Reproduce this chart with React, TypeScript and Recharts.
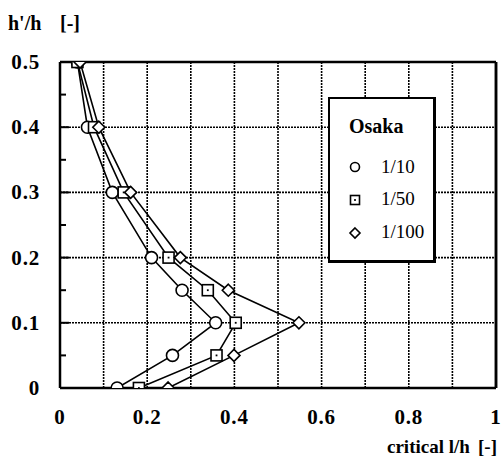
import React from 'react';
import { ScatterChart, Scatter, XAxis, YAxis, CartesianGrid, Legend, ReferenceLine } from 'recharts';

const heights = [0.5, 0.4, 0.3, 0.2, 0.15, 0.1, 0.05, 0];
const osaka10 = [0.04, 0.063, 0.12, 0.21, 0.28, 0.357, 0.258, 0.131];
const osaka50 = [0.04, 0.078, 0.146, 0.249, 0.339, 0.403, 0.359, 0.181];
const osaka100 = [0.046, 0.089, 0.162, 0.276, 0.386, 0.548, 0.399, 0.248];

const xTicks = [0, 0.1, 0.2, 0.3, 0.4, 0.5, 0.6, 0.7, 0.8, 0.9, 1];
const xLabels = ['0', '', '0.2', '', '0.4', '', '0.6', '', '0.8', '', '1'];
const yTicks = [0, 0.05, 0.1, 0.15, 0.2, 0.25, 0.3, 0.35, 0.4, 0.45, 0.5];
const yLabels = ['0', '', '0.1', '', '0.2', '', '0.3', '', '0.4', '', '0.5'];
const gridX = [0.1, 0.2, 0.3, 0.4, 0.5, 0.6, 0.7, 0.8, 0.9];
const gridY = [0.1, 0.2, 0.3, 0.4];
const frameTop = 0.5;
const frameRight = 1;

const legendTitle = 'Osaka';
const seriesNames = ['1/10', '1/50', '1/100'];

const toPoints = (xs: number[]) => heights.map((h, i) => ({ x: xs[i], y: h }));
const d10 = toPoints(osaka10);
const d50 = toPoints(osaka50);
const d100 = toPoints(osaka100);

const FONT = '"Liberation Serif", "DejaVu Serif", serif';
const TICK_STYLE = { fontFamily: FONT, fontWeight: 'bold' as const, fontSize: 21, letterSpacing: 0.8 };

const CircleShape = (p: any) => (
  <circle cx={p.cx} cy={p.cy} r={6} fill="#fff" stroke="#000" strokeWidth={1.6} />
);
const SquareShape = (p: any) => (
  <g>
    <rect x={p.cx - 5.5} y={p.cy - 5.5} width={11} height={11} fill="#fff" stroke="#000" strokeWidth={1.6} />
    <rect x={p.cx - 0.9} y={p.cy - 0.9} width={1.8} height={1.8} fill="#000" />
  </g>
);
const DiamondShape = (p: any) => (
  <path
    d={`M${p.cx},${p.cy - 6} L${p.cx + 6},${p.cy} L${p.cx},${p.cy + 6} L${p.cx - 6},${p.cy} Z`}
    fill="#fff"
    stroke="#000"
    strokeWidth={1.6}
  />
);

const XTick = (props: any) => {
  const { x, y, index } = props;
  const label = xLabels[index] ?? '';
  if (!label) return <g />;
  return (
    <text x={x} y={y + 36} textAnchor="middle" style={TICK_STYLE} fill="#000">
      {label}
    </text>
  );
};

const YTickLeft = (props: any) => {
  const { x, y, index } = props;
  const label = yLabels[index] ?? '';
  if (!label) return <line x1={x} x2={x + 6} y1={y} y2={y} stroke="#000" strokeWidth={2} />;
  const major = index > 0 && index < yTicks.length - 1;
  return (
    <g>
      {major && <line x1={x} x2={x + 9} y1={y} y2={y} stroke="#000" strokeWidth={2} />}
      <text x={x - 20} y={y + 7} textAnchor="end" style={TICK_STYLE} fill="#000">
        {label}
      </text>
    </g>
  );
};

const YTickRight = (props: any) => {
  const { x, y, index } = props;
  const label = yLabels[index] ?? '';
  if (!label) return <line x1={x - 6} x2={x} y1={y} y2={y} stroke="#000" strokeWidth={2} />;
  const major = index > 0 && index < yTicks.length - 1;
  if (!major) return <g />;
  return <line x1={x - 9} x2={x} y1={y} y2={y} stroke="#000" strokeWidth={2} />;
};

const LegendBox = () => (
  <div
    style={{
      width: 108,
      height: 166,
      boxSizing: 'border-box',
      border: '2px solid #000',
      borderRightWidth: 3,
      borderBottomWidth: 3,
      background: '#fff',
    }}
  >
    <svg width={104} height={162} style={{ display: 'block' }}>
      <text x={19} y={34} style={{ fontFamily: FONT, fontWeight: 'bold', fontSize: 20 }} fill="#000">
        {legendTitle}
      </text>
      <circle cx={25} cy={68} r={4.5} fill="#fff" stroke="#000" strokeWidth={1.6} />
      <rect x={20.5} y={96.5} width={9} height={9} fill="#fff" stroke="#000" strokeWidth={1.6} />
      <rect x={24.1} y={100.1} width={1.8} height={1.8} fill="#000" />
      <path d="M25,129 L30,134 L25,139 L20,134 Z" fill="#fff" stroke="#000" strokeWidth={1.6} />
      <text x={51} y={74} style={{ fontFamily: FONT, fontSize: 19 }} fill="#000">{seriesNames[0]}</text>
      <text x={51} y={106} style={{ fontFamily: FONT, fontSize: 19 }} fill="#000">{seriesNames[1]}</text>
      <text x={51} y={139} style={{ fontFamily: FONT, fontSize: 19 }} fill="#000">{seriesNames[2]}</text>
    </svg>
  </div>
);

const titleStyle = (left: number, top: number, size: number): React.CSSProperties => ({
  position: 'absolute',
  left,
  top,
  fontFamily: FONT,
  fontWeight: 'bold',
  fontSize: size,
  whiteSpace: 'pre',
  lineHeight: '20px',
});

export default function App() {
  return (
    <div style={{ position: 'absolute', left: 0, top: 0, width: 501, height: 458, background: '#fff' }}>
      <ScatterChart width={501} height={458} margin={{ top: 62, right: 4, bottom: 40, left: 0 }}>
        <CartesianGrid
          horizontalValues={gridY}
          verticalValues={gridX}
          stroke="#000"
          strokeDasharray="2 1"
          strokeWidth={1.6}
        />
        <XAxis
          type="number"
          dataKey="x"
          domain={[0, 1]}
          ticks={xTicks}
          interval={0}
          allowDataOverflow
          height={30}
          tickSize={0}
          tickMargin={0}
          tickLine={false}
          axisLine={{ stroke: '#000', strokeWidth: 2.5 }}
          tick={<XTick />}
        />
        <YAxis
          type="number"
          dataKey="y"
          domain={[0, 0.5]}
          ticks={yTicks}
          interval={0}
          allowDataOverflow
          width={60}
          tickSize={0}
          tickMargin={0}
          tickLine={false}
          axisLine={{ stroke: '#000', strokeWidth: 2.5 }}
          tick={<YTickLeft />}
        />
        <YAxis
          yAxisId="right"
          orientation="right"
          type="number"
          domain={[0, 0.5]}
          ticks={yTicks}
          interval={0}
          width={1}
          tickSize={0}
          tickMargin={0}
          tickLine={false}
          axisLine={{ stroke: '#000', strokeWidth: 2.5 }}
          tick={<YTickRight />}
        />
        <ReferenceLine y={frameTop} stroke="#000" strokeWidth={2.5} ifOverflow="visible" />
        <ReferenceLine x={frameRight} stroke="#000" strokeWidth={2.5} ifOverflow="visible" />
        <Legend
          layout="vertical"
          align="center"
          verticalAlign="middle"
          content={<LegendBox />}
          wrapperStyle={{ position: 'absolute', left: 328, top: 97, width: 108, height: 166 }}
        />
        <Scatter
          name={seriesNames[0]}
          data={d10}
          line={{ stroke: '#000', strokeWidth: 1.6 }}
          lineType="joint"
          shape={<CircleShape />}
          isAnimationActive={false}
        />
        <Scatter
          name={seriesNames[1]}
          data={d50}
          line={{ stroke: '#000', strokeWidth: 1.6 }}
          lineType="joint"
          shape={<SquareShape />}
          isAnimationActive={false}
        />
        <Scatter
          name={seriesNames[2]}
          data={d100}
          line={{ stroke: '#000', strokeWidth: 1.6 }}
          lineType="joint"
          shape={<DiamondShape />}
          isAnimationActive={false}
        />
      </ScatterChart>
      <div style={titleStyle(8, 13, 20)}>{"h'/h"}</div>
      <div style={titleStyle(60, 13, 20)}>{'[-]'}</div>
      <div style={titleStyle(387, 437, 19)}>{'critical l/h'}</div>
      <div style={titleStyle(478, 437, 19)}>{'[-]'}</div>
    </div>
  );
}
